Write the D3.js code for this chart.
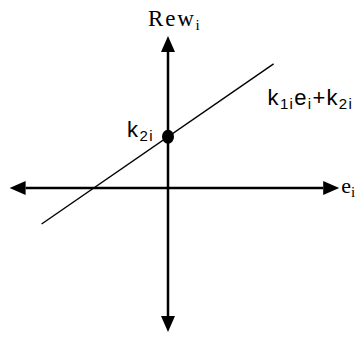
<!DOCTYPE html>
<html>
<head>
<meta charset="utf-8">
<script src="https://cdn.jsdelivr.net/npm/d3@7"></script>
<style>
  body { margin: 0; background: #fff; }
  svg { display: block; }
</style>
</head>
<body>
<svg id="chart"></svg>
<script>
// axis extents in chart units (origin = where the axes cross)
const eAxis = [-9.9, 10.7];
const rewAxis = [-9.0, 9.5];
// reward line: Rew = k1 * e + k2
const k1 = 0.69;
const k2 = 3.2;
const lineE = [-7.9, 6.6];

const width = 362, height = 338;
const unit = 16; // pixels per chart unit

const svg = d3.select("#chart").attr("width", width).attr("height", height);

const x = d3.scaleLinear().domain([0, 1]).range([168, 168 + unit]);
const y = d3.scaleLinear().domain([0, 1]).range([188, 188 - unit]);

const headLen = 16, headHalf = 7;

// double headed arrow between two points
function arrow(p0, p1) {
    const dx = p1[0] - p0[0], dy = p1[1] - p0[1];
    const len = Math.hypot(dx, dy);
    const ux = dx / len, uy = dy / len;
    const a = [p0[0] + ux * headLen, p0[1] + uy * headLen];
    const b = [p1[0] - ux * headLen, p1[1] - uy * headLen];
    svg.append("line")
        .attr("x1", a[0]).attr("y1", a[1])
        .attr("x2", b[0]).attr("y2", b[1])
        .attr("stroke", "#000")
        .attr("stroke-width", 2.5);
    const head = (tip, base) => [
        tip,
        [base[0] - uy * headHalf, base[1] + ux * headHalf],
        [base[0] + uy * headHalf, base[1] - ux * headHalf]
    ];
    svg.selectAll(null)
        .data([head(p0, a), head(p1, b)])
        .enter().append("path")
        .attr("d", d => d3.line()(d) + "Z")
        .attr("fill", "#000");
}

arrow([x(eAxis[0]), y(0)], [x(eAxis[1]), y(0)]);
arrow([x(0), y(rewAxis[1])], [x(0), y(rewAxis[0])]);

// the reward line
const line = d3.line()
    .x(e => x(e))
    .y(e => y(k1 * e + k2));
svg.append("path")
    .attr("d", line(lineE))
    .attr("fill", "none")
    .attr("stroke", "#000")
    .attr("stroke-width", 1.4);

// intercept point
svg.append("ellipse")
    .attr("cx", x(0))
    .attr("cy", y(k2))
    .attr("rx", 6)
    .attr("ry", 7)
    .attr("fill", "#000");

// labels with subscripts
function label(px, py, parts, font, size, subSize, spacing) {
    const t = svg.append("text")
        .attr("x", px).attr("y", py)
        .style("font-family", font)
        .style("font-size", size + "px")
        .style("letter-spacing", (spacing || 0) + "px")
        .attr("fill", "#000");
    let sub = false;
    parts.forEach(p => {
        const isSub = p[1];
        t.append("tspan")
            .style("font-size", (isSub ? subSize : size) + "px")
            .attr("dy", isSub === sub ? 0 : (isSub ? 4 : -4))
            .text(p[0]);
        sub = isSub;
    });
}

const serif = "'Liberation Serif', 'Times New Roman', serif";
const sans = "'Liberation Sans', Arial, sans-serif";

label(x(0) - 20, y(rewAxis[1]) - 10, [["Rew", false], ["i", true]], serif, 23, 15, 1.8);
label(x(eAxis[1]) + 2, y(0) + 5, [["e", false], ["i", true]], serif, 22, 15);
label(x(0) - 41, y(k2), [["k", false], ["2i", true]], sans, 22, 15, 1.5);
label(x(lineE[1]) - 6, y(k1 * lineE[1] + k2) + 41,
    [["k", false], ["1i", true], ["e", false], ["i", true], ["+k", false], ["2i", true]],
    sans, 22, 15, 1.3);
</script>
</body>
</html>
